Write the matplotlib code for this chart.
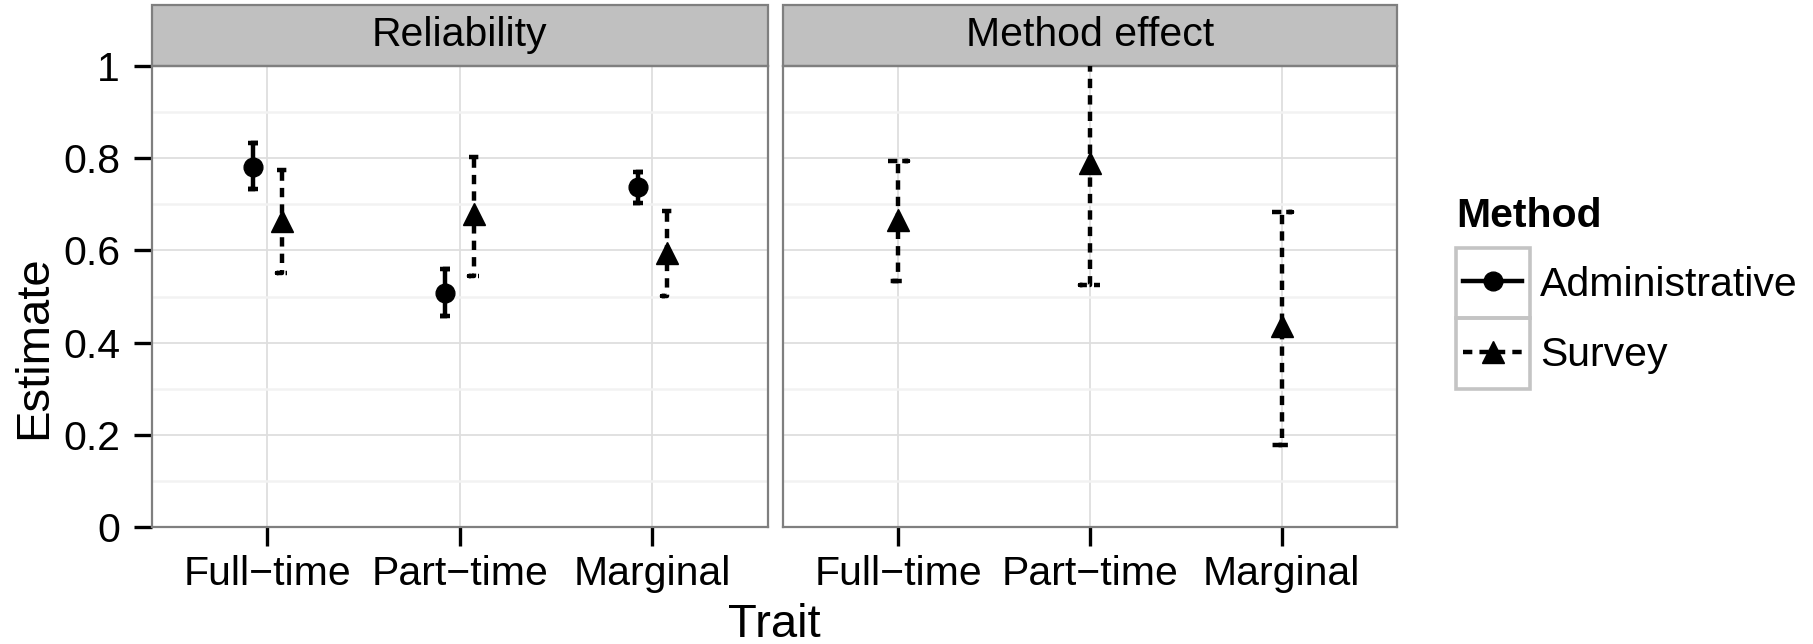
import matplotlib
matplotlib.use('Agg')
import matplotlib.pyplot as plt
from matplotlib.legend_handler import HandlerLine2D
from matplotlib.lines import Line2D
from matplotlib.patches import Rectangle
import numpy as np

plt.rcParams['font.family'] = ['Liberation Sans', 'DejaVu Sans']

traits = ['Full\u2212time', 'Part\u2212time', 'Marginal']
panels = ['Reliability', 'Method effect']
methods = ['Administrative', 'Survey']

# reliability, administrative
adm_est = [0.780, 0.508, 0.737]
adm_lo = [0.733, 0.457, 0.702]
adm_hi = [0.832, 0.560, 0.771]
# reliability, survey
srv_est = [0.663, 0.678, 0.595]
srv_lo = [0.550, 0.544, 0.501]
srv_hi = [0.775, 0.803, 0.685]
# method effect, survey
meth_est = [0.667, 0.789, 0.436]
meth_lo = [0.533, 0.526, 0.178]
meth_hi = [0.795, 1.050, 0.684]

yticks = [0, 0.2, 0.4, 0.6, 0.8, 1.0]
yticklabels = ['0', '0.2', '0.4', '0.6', '0.8', '1']

W, H = 1813, 644
LW = 3.2
DASH = (0, (2.1, 1.6))
FS = 29.5

fig = plt.figure(figsize=(W/100, H/100), dpi=100)
ax1 = fig.add_axes([152/W, 1-527/H, 615.7/W, 461/H])
ax2 = fig.add_axes([783.3/W, 1-527/H, 613.4/W, 461/H])

def errbars(ax, xs, est, lo, hi, w, ls, marker, ms):
    # same path as ggplot's geom_errorbar: top cap, stem, bottom cap
    for x, l, h in zip(xs, lo, hi):
        ax.plot([x-w, x+w, x, x, x-w, x+w], [h, h, h, l, l, l], color='k',
                lw=LW, ls=ls, dash_capstyle='butt', solid_capstyle='butt',
                solid_joinstyle='miter', zorder=3)
    ax.plot(xs, est, ls='none', marker=marker, ms=ms, color='k', zorder=4)

x = np.arange(1, len(traits)+1)
dodge = 0.075
errbars(ax1, x-dodge, adm_est, adm_lo, adm_hi, 0.026, '-', 'o', 13.5)
errbars(ax1, x+dodge, srv_est, srv_lo, srv_hi, 0.026, DASH, '^', 16.5)
errbars(ax2, x, meth_est, meth_lo, meth_hi, 0.052, DASH, '^', 16.5)

for ax, title in zip([ax1, ax2], panels):
    ax.set_xlim(0.4, 3.6)
    ax.set_ylim(0, 1)
    ax.set_xticks(x)
    ax.set_xticklabels(traits, fontsize=FS)
    ax.set_yticks(yticks)
    ax.set_yticks([0.1, 0.3, 0.5, 0.7, 0.9], minor=True)
    ax.grid(True, which='major', color='#dedede', lw=1.3, zorder=0)
    ax.grid(True, which='minor', axis='y', color='#f2f2f2', lw=1.8, zorder=0)
    ax.set_axisbelow(True)
    for s in ax.spines.values():
        s.set_color('#7f7f7f')
        s.set_linewidth(1.6)
    ax.tick_params(axis='x', length=13.5, width=2.4, pad=7, color='k')
    ax.tick_params(axis='y', which='major', length=13, width=2.4, pad=10, color='k')
    ax.tick_params(axis='y', which='minor', length=0)
    ax.add_patch(Rectangle((0, 1), 1, 61/461, transform=ax.transAxes,
                           fc='#c0c0c0', ec='#7f7f7f', lw=1.6, clip_on=False))
    ax.text(0.5, 1 + 31/461, title, transform=ax.transAxes, ha='center',
            va='center', fontsize=FS)

ax1.set_yticklabels(yticklabels, fontsize=FS)
ax2.tick_params(axis='y', which='both', left=False, labelleft=False)

fig.text(774/W, 7/H, 'Trait', ha='center', va='baseline', fontsize=34)
fig.text(34/W, 296.5/H, 'Estimate', ha='center', va='center', rotation=90, fontsize=34)


class BoxedHandler(HandlerLine2D):
    # legend key with a grey box around it, line through the middle
    def create_artists(self, legend, orig_handle, xdescent, ydescent,
                       width, height, fontsize, trans):
        arts = super().create_artists(legend, orig_handle, xdescent, ydescent,
                                      width, height, fontsize, trans)
        yc = height / 2 - ydescent + 0.04 * fontsize
        inset = 0.18 * fontsize
        x0, x1 = -xdescent + inset, -xdescent + width - inset
        for a in arts:
            a.set_data([x0, (x0 + x1) / 2, x1], [yc, yc, yc])
            a.set_markevery([1])
        box = Rectangle((-xdescent, -ydescent), width, height, fc='none',
                        ec='#c4c4c4', lw=2.6, transform=trans)
        return [box] + list(arts)


handles = [Line2D([], [], color='k', lw=LW, marker='o', ms=13.5, ls='-'),
           Line2D([], [], color='k', lw=LW, marker='^', ms=16.5, ls=DASH)]
leg = fig.legend(handles, methods, loc='upper left',
                 bbox_to_anchor=(1456/W, 1-197/H), fontsize=FS,
                 title='Method', title_fontproperties={'weight': 'bold', 'size': FS},
                 alignment='left', frameon=False, borderpad=0, borderaxespad=0,
                 handlelength=1.8, handleheight=2.28, labelspacing=0,
                 handletextpad=0.25, numpoints=1,
                 handler_map={Line2D: BoxedHandler()})
leg._legend_box.sep = 9  # gap between title and keys

fig.savefig('out.png', dpi=100)
